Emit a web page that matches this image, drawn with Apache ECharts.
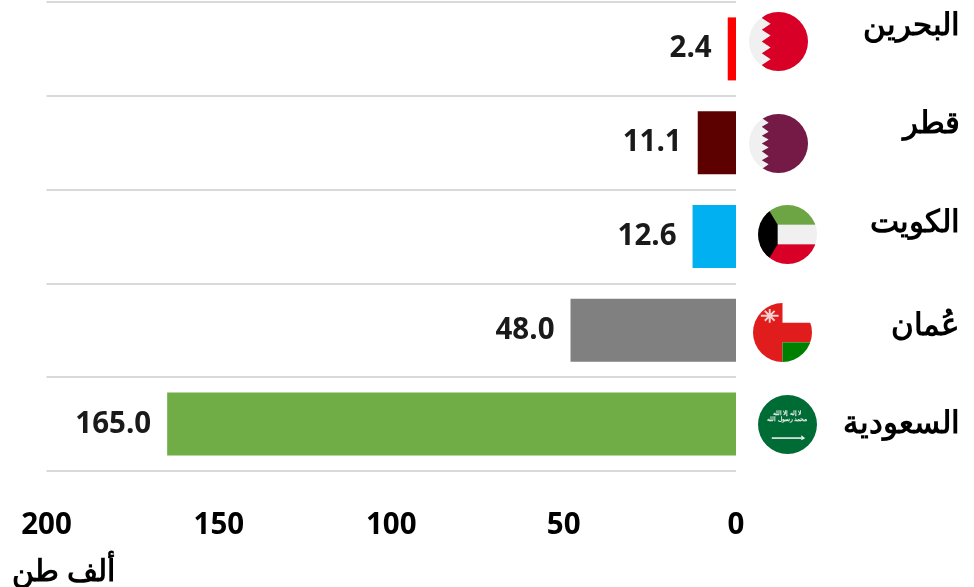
<!DOCTYPE html>
<html>
<head>
<meta charset="utf-8">
<style>html,body{margin:0;padding:0;background:#fff}#chart{width:974px;height:587px}</style>
<script src="https://cdn.jsdelivr.net/npm/echarts@6/dist/echarts.min.js"></script>
</head>
<body>
<div id="chart"></div>
<script>
const countries = ['البحرين', 'قطر', 'الكويت', 'عُمان', 'السعودية'];
const values = [2.4, 11.1, 12.6, 48.0, 165.0];
const barColors = ['#ff0000', '#5c0000', '#00b0f0', '#808080', '#70ad47'];
const unitLabel = 'ألف طن';
const font = '"Open Sans", "Noto Sans", sans-serif';

// base is drawn unclipped so its edge stays clean, the rest is cut to the circle
const svgUri = (base, body) => 'data:image/svg+xml;utf8,' + encodeURIComponent(
  '<svg xmlns="http://www.w3.org/2000/svg" viewBox="0 0 60 60"><defs><clipPath id="c"><circle cx="30" cy="30" r="30"/></clipPath></defs>' +
  (base ? '<circle cx="30" cy="30" r="30" fill="' + base + '"/>' : '') +
  '<g clip-path="url(#c)">' + body + '</g></svg>');

// flags are only decoration, drawn as small svgs
const flagBahrain = svgUri('#f0f0f0', '<path d="M60 0H20L13 6 22 12 13 18 22 24 13 30 22 36 13 42 22 48 13 54 20 60H60Z" fill="#d80027"/>');
const flagQatar = svgUri('#f0f0f0', '<path d="M60 0H20L13 4 20 9 13 13 20 18 13 22 20 26 13 30 20 34 13 38 20 43 13 47 20 51 13 56 20 60H60Z" fill="#751a46"/>');
const flagKuwait = svgUri('#f0f0f0', '<rect width="60" height="20" fill="#6da544"/><rect y="40" width="60" height="20" fill="#d80027"/><path d="M0 0H8L20 20V40L8 60H0Z" fill="#000"/>');
const flagOman = svgUri('', '<path d="M0 0H30V20H60V40H30V60H0Z" fill="#e01c1c"/><rect x="30" y="40" width="30" height="20" fill="#008000"/><path d="M12 8 22 18M22 8 12 18M17 6V20M8 13H26" stroke="#f4d0d0" stroke-width="2"/>');
const flagSaudi = svgUri('#006c35', '<rect x="14" y="43" width="30" height="1.6" fill="#f0f0f0"/><path d="M44 41 48 44 44 46Z" fill="#f0f0f0"/>');

const flagImages = [
  { image: flagBahrain, x: 749, y: 12 },
  { image: flagQatar, x: 749, y: 114 },
  { image: flagKuwait, x: 758, y: 205 },
  { image: flagOman, x: 753, y: 303 },
  { image: flagSaudi, x: 758, y: 395 }
];
// how far each country name sits above its bar centre (padding, so twice the shift)
const nameLift = [46, 38, 26, 8, 0];
const nameRich = {};
nameLift.forEach((lift, i) => {
  nameRich['n' + i] = { padding: [0, 0, lift, 0], color: '#000', fontFamily: font, fontWeight: 'bold', fontSize: 31 };
});

const chart = echarts.init(document.getElementById('chart'), null, { renderer: 'canvas' });

const option = {
  animation: false,
  grid: { left: 46.5, right: 238, top: 2, height: 469, outerBoundsMode: 'none' },
  xAxis: {
    type: 'value',
    inverse: true,
    min: 0,
    max: 200,
    interval: 50,
    axisLine: { show: false },
    axisTick: { show: false },
    splitLine: { show: false },
    axisLabel: { margin: 40, color: '#000', fontFamily: font, fontWeight: 'bold', fontSize: 29.5, hideOverlap: false, showMinLabel: true, showMaxLabel: true }
  },
  yAxis: {
    type: 'category',
    inverse: true,
    position: 'right',
    data: countries,
    axisLine: { show: false },
    axisTick: { show: false },
    splitLine: { show: true, lineStyle: { color: '#d9d9d9', width: 2 } },
    axisLabel: {
      margin: 224,
      align: 'right',
      formatter: (v, i) => '{n' + i + '|' + v + '}',
      rich: nameRich
    }
  },
  series: [{
    type: 'bar',
    barWidth: 63,
    data: values.map((v, i) => ({ value: v, itemStyle: { color: barColors[i] } })),
    label: {
      show: true,
      position: 'left',
      distance: 16,
      color: '#1a1a1a',
      fontFamily: font,
      fontWeight: 'bold',
      fontSize: 29.5,
      formatter: p => p.value.toFixed(1)
    }
  }],
  graphic: [
    ...flagImages.map(f => ({
      type: 'image',
      left: f.x,
      top: f.y,
      style: { image: f.image, width: 59, height: 59 }
    })),
    {
      type: 'text',
      x: 787,
      y: 410,
      style: { text: 'لا إله إلا الله\nمحمد رسول الله', fill: '#f0f0f0', align: 'center', font: 'bold 6px "Noto Sans", sans-serif' }
    },
    {
      type: 'text',
      left: 12,
      top: 557,
      style: { text: unitLabel, fill: '#000', font: 'bold 30px ' + font }
    }
  ]
};

chart.setOption(option);
</script>
</body>
</html>
